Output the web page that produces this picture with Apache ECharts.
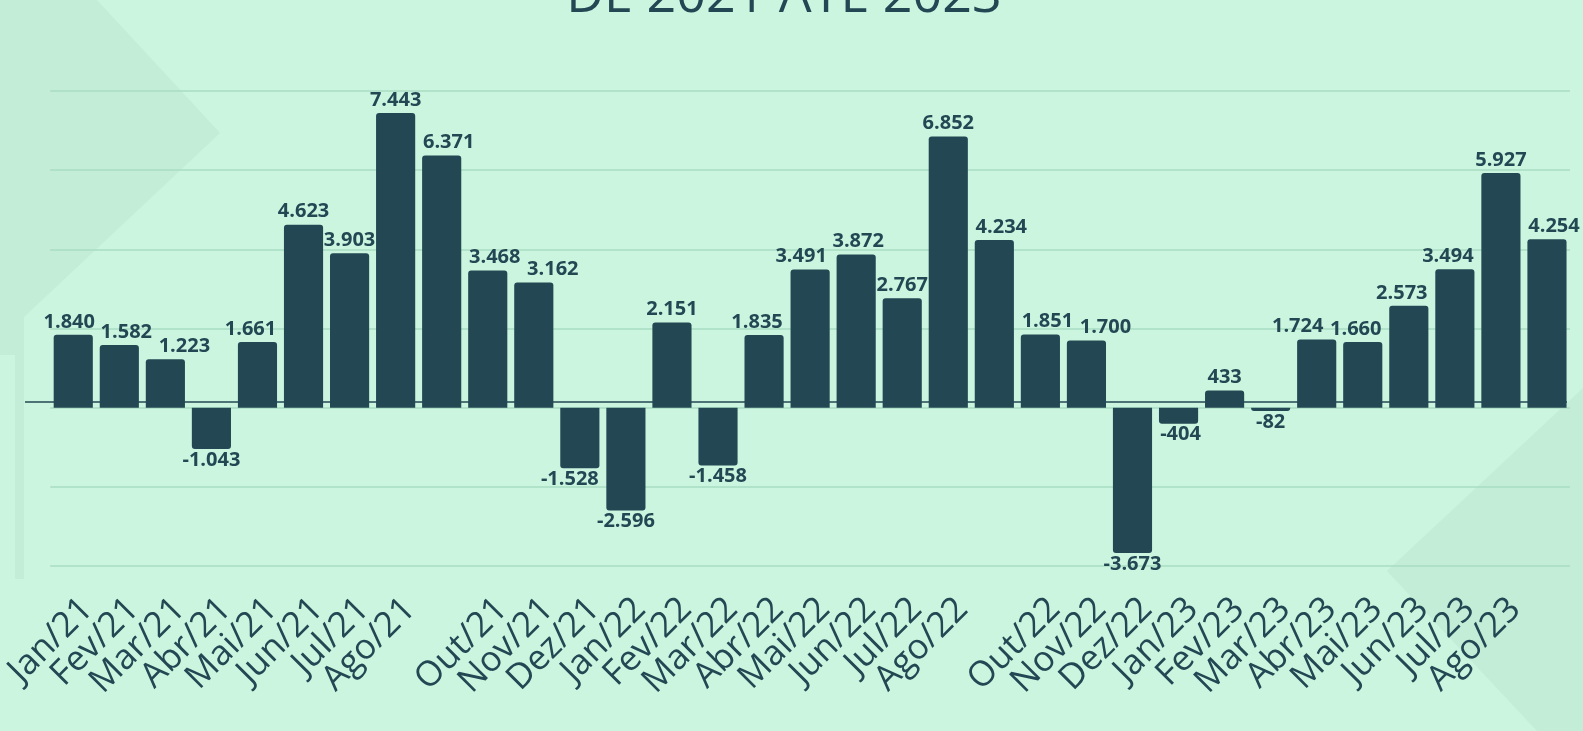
<!DOCTYPE html>
<html>
<head>
<meta charset="utf-8">
<script src="https://cdn.jsdelivr.net/npm/echarts@6/dist/echarts.min.js"></script>
<style>
  html, body { margin: 0; padding: 0; background: #ccf5e0; }
  #chart { width: 1583px; height: 731px; }
</style>
</head>
<body>
<div id="chart"></div>
<script>
// months shown on the axis (Set/xx labels are not printed in the original)
const months = [
  'Jan/21', 'Fev/21', 'Mar/21', 'Abr/21', 'Mai/21', 'Jun/21', 'Jul/21', 'Ago/21', 'Set/21', 'Out/21', 'Nov/21', 'Dez/21',
  'Jan/22', 'Fev/22', 'Mar/22', 'Abr/22', 'Mai/22', 'Jun/22', 'Jul/22', 'Ago/22', 'Set/22', 'Out/22', 'Nov/22', 'Dez/22',
  'Jan/23', 'Fev/23', 'Mar/23', 'Abr/23', 'Mai/23', 'Jun/23', 'Jul/23', 'Ago/23', 'Set/23'
];
const saldo = [
  1840, 1582, 1223, -1043, 1661, 4623, 3903, 7443, 6371, 3468, 3162, -1528,
  -2596, 2151, -1458, 1835, 3491, 3872, 2767, 6852, 4234, 1851, 1700, -3673,
  -404, 433, -82, 1724, 1660, 2573, 3494, 5927, 4254
];
const titleText = 'DE 2021 ATÉ 2023';

const INK  = '#234753';
const BG   = '#ccf5e0';
const DECO = '#c3edd7';
const LABEL_FONT = 'bold 20px "Open Sans"';
const GAP = 0.15;

const fmt = v => String(v).replace(/\B(?=(\d{3})+(?!\d))/g, '.');

const chart = echarts.init(document.getElementById('chart'), null, { renderer: 'canvas' });

const barData = offsets => saldo.map((v, i) => ({
  value: v,
  itemStyle: { borderRadius: v >= 0 ? [3, 3, 0, 0] : [0, 0, 3, 3] },
  label: v >= 0
    ? { position: 'top', distance: 3, offset: [offsets[i], 0] }
    : { position: 'bottom', distance: 1, offset: [offsets[i], 0] }
}));

chart.setOption({
  backgroundColor: BG,
  animation: false,
  graphic: [
    // background decorations
    { type: 'polygon', z: -10, silent: true,
      shape: { points: [[0, 0], [97, 0], [220, 133], [24, 317], [24, 355], [0, 355]] },
      style: { fill: DECO } },
    { type: 'rect', z: -10, silent: true,
      shape: { x: 15, y: 355, width: 9, height: 224 },
      style: { fill: DECO } },
    { type: 'polygon', z: -10, silent: true,
      shape: { points: [[1583, 388], [1387, 571], [1537, 731], [1583, 731]] },
      style: { fill: DECO } },
    // baseline stroke under the bars
    { type: 'line', z: 1, silent: true,
      shape: { x1: 25, y1: 402, x2: 1567, y2: 402 },
      style: { stroke: INK, lineWidth: 1.5 } },
    { type: 'text', z: 5, x: 784, y: -29,
      style: { text: titleText, fill: INK, font: '400 52px "Open Sans"',
               letterSpacing: 1.5, textAlign: 'center', textVerticalAlign: 'top' } }
  ],
  grid: { left: 47, right: 13, top: 91, bottom: 165, containLabel: false },
  xAxis: {
    type: 'category',
    data: months,
    axisLine: { show: false },
    axisTick: { show: false },
    axisLabel: {
      interval: 0,
      rotate: 45,
      margin: 52,
      color: INK,
      fontFamily: 'Open Sans',
      fontSize: 35,
      padding: [0, -20, 0, 0],
      formatter: v => v.startsWith('Set') ? '' : v
    }
  },
  yAxis: {
    type: 'value',
    min: -4000,
    max: 8000,
    interval: 2000,
    axisLine: { show: false },
    axisTick: { show: false },
    axisLabel: { show: false },
    splitLine: { lineStyle: { color: '#a8dcc3', width: 1.5 } }
  },
  series: [{
    type: 'bar',
    barCategoryGap: (GAP * 100) + '%',
    data: barData(saldo.map(() => 0)),
    itemStyle: { color: INK },
    label: {
      show: true,
      color: INK,
      fontFamily: 'Open Sans',
      fontWeight: 'bold',
      fontSize: 20,
      formatter: p => fmt(p.value)
    }
  }]
});

// --- nudge value labels sideways so they don't collide with neighbours ---
(function spreadLabels() {
  const ctx = document.createElement('canvas').getContext('2d');
  ctx.font = LABEL_FONT;
  const x0 = chart.convertToPixel({ xAxisIndex: 0 }, 0);
  const band = chart.convertToPixel({ xAxisIndex: 0 }, 1) - x0;
  const bw = band * (1 - GAP);
  const yZero = chart.convertToPixel({ yAxisIndex: 0 }, 0);
  const H = 20, LL = 6, LB = 8;

  const items = saldo.map((v, i) => {
    const cx = chart.convertToPixel({ xAxisIndex: 0 }, i);
    const yv = chart.convertToPixel({ yAxisIndex: 0 }, v);
    const w = ctx.measureText(fmt(v)).width;
    const top = v >= 0 ? yv - 3 - H : yv + 1;
    return {
      cx, w, top, bot: top + H, dx: 0,
      barL: cx - bw / 2, barR: cx + bw / 2,
      barT: Math.min(yv, yZero), barB: Math.max(yv, yZero)
    };
  });
  const vOverlap = (a1, a2, b1, b2) => a1 < b2 && b1 < a2;

  // room each label has between the neighbouring bars it would touch
  items.forEach((a, i) => {
    const l = items[i - 1], r = items[i + 1];
    a.lo = l && vOverlap(a.top, a.bot, l.barT, l.barB) ? l.barR + LB : -Infinity;
    a.hi = r && vOverlap(a.top, a.bot, r.barT, r.barB) ? r.barL - LB : Infinity;
  });
  const clamp = a => {
    const left = a.cx + a.dx - a.w / 2, right = left + a.w;
    if (a.hi - a.lo < a.w) { a.dx = (a.lo + a.hi) / 2 - a.cx; return; }
    if (left < a.lo) a.dx += a.lo - left;
    else if (right > a.hi) a.dx -= right - a.hi;
  };

  for (let it = 0; it < 60; it++) {
    items.forEach(clamp);
    for (let i = 0; i < items.length - 1; i++) {
      const a = items[i], b = items[i + 1];
      if (!vOverlap(a.top, a.bot, b.top, b.bot)) continue;
      const gap = (b.cx + b.dx - b.w / 2) - (a.cx + a.dx + a.w / 2);
      if (gap < LL) {
        const d = (LL - gap) / 2;
        a.dx -= d; b.dx += d;
      }
    }
  }
  items.forEach(clamp);
  chart.setOption({ series: [{ data: barData(items.map(o => Math.round(o.dx))) }] });
})();
</script>
</body>
</html>
